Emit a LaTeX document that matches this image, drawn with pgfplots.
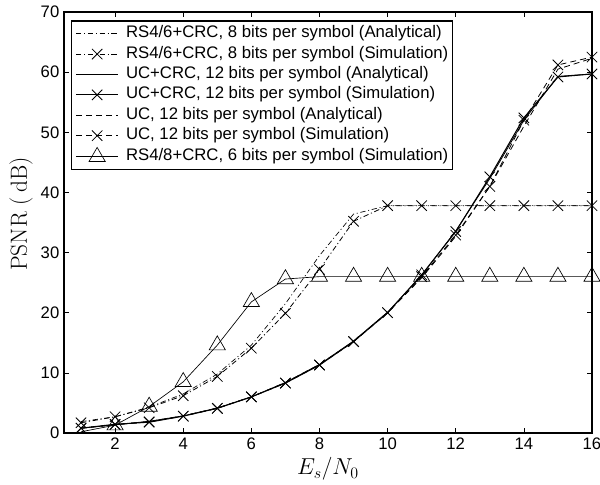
\documentclass[border=0pt]{standalone}
\usepackage{fontspec}
\usepackage{pgfplots}
\pgfplotsset{compat=1.18}
\newfontfamily\helv{Liberation Sans}
\tikzset{
  ddot/.style={dash pattern=on 4pt off 2pt on 0.8pt off 2pt},
  mdash/.style={dash pattern=on 4.5pt off 3pt},
}
\newcommand{\legtxt}[1]{\hspace*{5.5pt}#1}
\begin{document}
\begin{tikzpicture}
\begin{axis}[
  scale only axis,
  width=396pt, height=315.75pt,
  xmin=0.5, xmax=16, ymin=0, ymax=70,
  xtick={2,4,...,16}, ytick={0,10,...,70},
  tick align=inside, major tick length=4pt,
  axis line style={line width=0.9pt},
  every tick/.style={black, line width=0.5pt},
  /pgf/number format/assume math mode=true,
  tick label style={font=\helv\fontsize{12.5}{14}\selectfont},
  xlabel={$E_s/N_0$},
  ylabel={PSNR (\,dB)},
  label style={font=\fontsize{17.5}{20}\selectfont},
  xlabel style={at={(axis description cs:0.5,-0.0855)}, anchor=center},
  ylabel style={at={(axis description cs:-0.0814,0.52)}, anchor=center},
  legend image code/.code={
    \draw[mark repeat=2,mark phase=2,#1] plot coordinates {(0pt,0pt) (15.75pt,0pt) (31.5pt,0pt)};
  },
  legend cell align=left,
  legend style={at={(0.0133,0.98)}, anchor=north west,
    draw=black, line width=0.9pt, inner sep=3pt,
    font=\helv\fontsize{12.55}{15}\selectfont,
    nodes={inner sep=0pt, text height=9.5pt, text depth=3.5pt, line width=0.5pt},
    row sep=2.3pt},
  clip=true,
]
% RS4/6+CRC analytical
\addplot[black, line width=0.5pt, ddot] coordinates {
(1,1.9)(2,2.7)(3,4.3)(4,6.5)(5,9.8)(6,14.6)(7,21.5)(8,29.5)(9,36.4)(10,37.8)
(11,37.8)(12,37.8)(13,37.8)(14,37.8)(15,37.8)(16,37.8)};
\addlegendentry{\legtxt{RS4/6+CRC, 8 bits per symbol (Analytical)}}
% RS4/6+CRC simulation
\addplot[black, line width=0.6pt, ddot, mark=x, mark size=5.5pt, mark options={solid, line width=0.6pt}] coordinates {
(1,1.7)(2,2.7)(3,4.2)(4,6.2)(5,9.4)(6,14.1)(7,19.9)(8,27.2)(9,35.2)(10,37.8)
(11,37.8)(12,37.8)(13,37.8)(14,37.8)(15,37.8)(16,37.8)};
\addlegendentry{\legtxt{RS4/6+CRC, 8 bits per symbol (Simulation)}}
% UC+CRC analytical
\addplot[black, line width=0.6pt] coordinates {
(1,0.8)(2,1.35)(3,1.95)(4,2.85)(5,4.15)(6,6.0)(7,8.4)(8,11.4)(9,15.3)(10,20.1)
(11,26.2)(12,33.6)(13,42.3)(14,52.0)(15,59.3)(16,59.7)};
\addlegendentry{\legtxt{UC+CRC, 12 bits per symbol (Analytical)}}
% UC+CRC simulation
\addplot[black, line width=0.8pt, mark=x, mark size=5.5pt, mark options={solid, line width=0.6pt}] coordinates {
(1,0.8)(2,1.45)(3,1.8)(4,2.8)(5,4.1)(6,6.0)(7,8.3)(8,11.3)(9,15.2)(10,20.0)
(11,26.3)(12,33.5)(13,42.6)(14,52.4)(15,59.2)(16,59.7)};
\addlegendentry{\legtxt{UC+CRC, 12 bits per symbol (Simulation)}}
% UC analytical
\addplot[black, line width=0.6pt, mdash] coordinates {
(1,0.8)(2,1.4)(3,1.9)(4,2.85)(5,4.15)(6,6.0)(7,8.4)(8,11.4)(9,15.2)(10,20.0)
(11,25.8)(12,32.7)(13,41.0)(14,51.0)(15,60.5)(16,62.3)};
\addlegendentry{\legtxt{UC, 12 bits per symbol (Analytical)}}
% UC simulation
\addplot[black, line width=0.6pt, mdash, mark=x, mark size=5.5pt, mark options={solid, line width=0.6pt}] coordinates {
(1,0.8)(2,1.4)(3,1.85)(4,2.8)(5,4.1)(6,6.0)(7,8.3)(8,11.3)(9,15.2)(10,20.0)
(11,26.0)(12,32.9)(13,41.0)(14,52.0)(15,61.2)(16,62.5)};
\addlegendentry{\legtxt{UC, 12 bits per symbol (Simulation)}}
% RS4/8+CRC simulation
\addplot[black, line width=0.5pt, mark=triangle, mark size=7pt, mark options={solid, line width=0.5pt}] coordinates {
(2,1.3)(3,4.4)(4,8.5)(5,14.6)(6,21.8)(7,25.6)(8,26.0)(9,26.0)(10,26.0)
(11,26.0)(12,26.0)(13,26.0)(14,26.0)(15,26.0)(16,26.0)};
\addlegendentry{\legtxt{RS4/8+CRC, 6 bits per symbol (Simulation)}}
\addplot[black, line width=0.5pt, forget plot] coordinates {(1,0.2)(2,1.3)};
\end{axis}
\pgfresetboundingbox
\path[use as bounding box] ([shift={(-48pt,-39pt)}]current axis.south west) rectangle ([shift={(6pt,9pt)}]current axis.north east);
\end{tikzpicture}
\end{document}
